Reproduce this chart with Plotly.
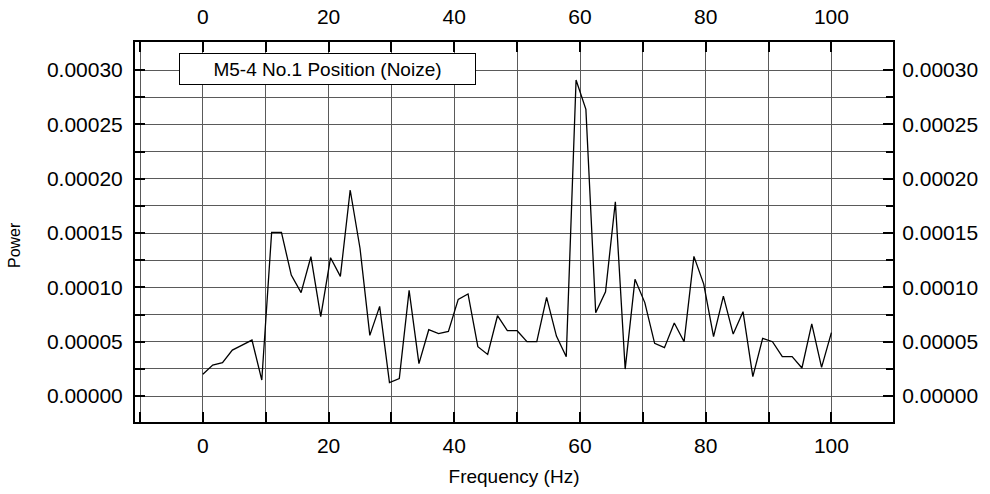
import plotly.graph_objects as go

# Frequency (Hz)
freq = [0.0, 1.5625, 3.125, 4.6875, 6.25, 7.8125, 9.375, 10.9375, 12.5, 14.0625,
        15.625, 17.1875, 18.75, 20.3125, 21.875, 23.4375, 25.0, 26.5625, 28.125, 29.6875,
        31.25, 32.8125, 34.375, 35.9375, 37.5, 39.0625, 40.625, 42.1875, 43.75, 45.3125,
        46.875, 48.4375, 50.0, 51.5625, 53.125, 54.6875, 56.25, 57.8125, 59.375, 60.9375,
        62.5, 64.0625, 65.625, 67.1875, 68.75, 70.3125, 71.875, 73.4375, 75.0, 76.5625,
        78.125, 79.6875, 81.25, 82.8125, 84.375, 85.9375, 87.5, 89.0625, 90.625, 92.1875,
        93.75, 95.3125, 96.875, 98.4375, 100.0]

# Power
power = [2.00e-5, 2.85e-5, 3.07e-5, 4.23e-5, 4.69e-5, 5.15e-5, 1.47e-5, 1.506e-4, 1.506e-4, 1.113e-4,
         9.51e-5, 1.282e-4, 7.30e-5, 1.273e-4, 1.101e-4, 1.896e-4, 1.36e-4, 5.58e-5, 8.25e-5, 1.23e-5,
         1.60e-5, 9.72e-5, 2.98e-5, 6.10e-5, 5.74e-5, 5.95e-5, 8.90e-5, 9.39e-5, 4.54e-5, 3.83e-5,
         7.39e-5, 6.01e-5, 6.01e-5, 5.00e-5, 5.00e-5, 9.08e-5, 5.52e-5, 3.62e-5, 2.908e-4, 2.638e-4,
         7.67e-5, 9.60e-5, 1.788e-4, 2.48e-5, 1.074e-4, 8.60e-5, 4.85e-5, 4.45e-5, 6.72e-5, 5.00e-5,
         1.285e-4, 1.03e-4, 5.46e-5, 9.20e-5, 5.70e-5, 7.76e-5, 1.78e-5, 5.30e-5, 5.00e-5, 3.62e-5,
         3.62e-5, 2.58e-5, 6.63e-5, 2.64e-5, 5.83e-5]

series_name = "M5-4 No.1 Position (Noize)"
x_title = "Frequency (Hz)"
y_title = "Power"

FONT = "Liberation Sans, Arial, sans-serif"
XR = [-10.8, 109.8]
YR = [-0.0000239, 0.0003258]
GRID = "#5a5a5a"

fig = go.Figure()
fig.add_trace(go.Scatter(x=freq, y=power, mode="lines", name=series_name,
                         line=dict(color="black", width=1.3), showlegend=False))
# invisible trace to carry the mirrored top/right axes
fig.add_trace(go.Scatter(x=freq, y=power, mode="lines", xaxis="x2", yaxis="y2",
                         line=dict(color="rgba(0,0,0,0)", width=0), showlegend=False,
                         hoverinfo="skip"))

common_x = dict(range=XR, tick0=0, dtick=20, ticks="inside", ticklen=10, tickwidth=1.5,
                tickcolor="black", showline=True, linecolor="black", linewidth=2,
                zeroline=False, automargin=False,
                tickfont=dict(family=FONT, size=21, color="black"))
common_y = dict(range=YR, tick0=0, dtick=0.00005, ticks="inside", ticklen=10, tickwidth=1.5,
                tickcolor="black", showline=True, linecolor="black", linewidth=2,
                zeroline=False, tickformat=".5f", automargin=False,
                tickfont=dict(family=FONT, size=21, color="black"))

fig.update_layout(
    width=990, height=494,
    margin=dict(l=135, r=97, t=42, b=72),
    paper_bgcolor="white", plot_bgcolor="white",
    font=dict(family=FONT, color="black"),
    xaxis=dict(**common_x, side="bottom", showgrid=True, gridcolor=GRID, gridwidth=1,
               ticklabelstandoff=4,
               minor=dict(dtick=10, tick0=0, ticks="inside", ticklen=10, tickcolor="black",
                          showgrid=True, gridcolor=GRID, gridwidth=1),
               title=dict(text=x_title, font=dict(family=FONT, size=19), standoff=13)),
    yaxis=dict(**common_y, side="left", showgrid=True, gridcolor=GRID, gridwidth=1,
               ticklabelstandoff=6,
               minor=dict(dtick=0.000025, tick0=0, ticks="inside", ticklen=10, tickcolor="black",
                          showgrid=True, gridcolor=GRID, gridwidth=1)),
    xaxis2=dict(**common_x, side="top", overlaying="x", anchor="y", showgrid=False,
                ticklabelstandoff=8,
                minor=dict(dtick=10, tick0=0, ticks="inside", ticklen=10, tickcolor="black")),
    yaxis2=dict(**common_y, side="right", overlaying="y", anchor="x", showgrid=False,
                ticklabelstandoff=3,
                minor=dict(dtick=0.000025, tick0=0, ticks="inside", ticklen=7, tickcolor="black")),
    annotations=[
        dict(text=series_name, xref="paper", yref="paper",
             x=(179 - 135) / 758, y=1 - (53 - 42) / 380,
             xanchor="left", yanchor="top", showarrow=False, align="center",
             width=293, height=28, borderpad=1,
             bordercolor="black", borderwidth=1, bgcolor="white",
             font=dict(family=FONT, size=19, color="black")),
        dict(text=y_title, xref="paper", yref="paper",
             x=-(135 - 14) / 758, y=(422 - 245) / 380,
             xanchor="center", yanchor="middle", showarrow=False, textangle=-90,
             font=dict(family=FONT, size=16, color="black")),
    ],
)

fig.write_html("out.html")
